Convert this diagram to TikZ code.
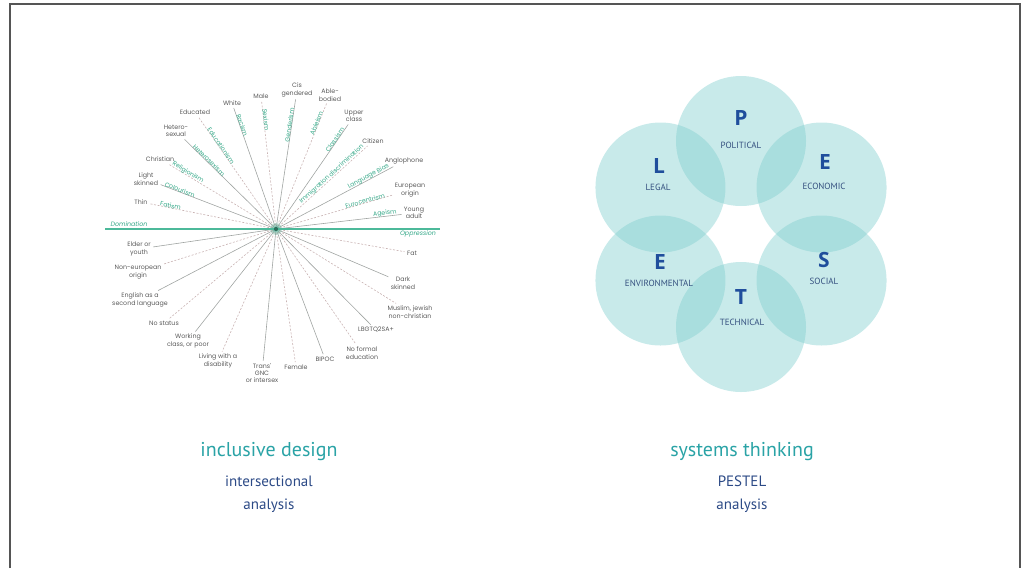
\documentclass[tikz,border=0pt]{standalone}
\usepackage{fontspec}
\usetikzlibrary{calc}
\setmainfont{PT Sans}
\newfontfamily\smallfont{Poppins}
\newfontfamily\letterfont{Open Sans}

\definecolor{labelgray}{HTML}{5A5A5A}
\definecolor{ismgreen}{HTML}{35A888}
\definecolor{spokegray}{HTML}{A0A4A2}
\definecolor{spokepink}{HTML}{C9B3B3}
\definecolor{domgreen}{HTML}{4CB99A}
\definecolor{pestfill}{RGB}{125,205,205}
\definecolor{pestblue}{HTML}{1F4E9C}
\definecolor{pestname}{HTML}{34507F}
\definecolor{titleteal}{HTML}{2AA3A6}
\definecolor{subblue}{HTML}{2C4A86}
\definecolor{framegray}{HTML}{555555}

\begin{document}
\begin{tikzpicture}[x=1pt,y=-1pt,
  lbl/.style={font=\smallfont\fontsize{6.3}{7.4}\selectfont, text=labelgray, align=center, inner sep=1pt, outer sep=1.5pt},
  ism/.style={font=\smallfont\fontsize{6.2}{7}\selectfont, text=ismgreen, sloped, above=-1pt, inner sep=0.5pt},
  spokeA/.style={draw=spokegray, line width=0.6pt},
  spokeB/.style={draw=spokepink, line width=0.6pt, dash pattern=on 2pt off 1.6pt},
  axisline/.style={draw=domgreen, line width=1.8pt},
  axislbl/.style={font=\smallfont\itshape\fontsize{6.3}{7.4}\selectfont, text=ismgreen, inner sep=1pt},
  pcircle/.style={fill=pestfill, fill opacity=0.42},
  pletter/.style={font=\letterfont\bfseries\fontsize{21}{24}\selectfont, text=pestblue, inner sep=0pt},
  pname/.style={font=\fontsize{9}{10}\selectfont, text=pestname, inner sep=0pt},
  title/.style={font=\fontsize{20}{22}\selectfont, text=titleteal},
  sub/.style={font=\fontsize{15}{17}\selectfont, text=subblue, inner sep=1pt}
]
\useasboundingbox (0,0) rectangle (1027,568);

% page frame (open at the bottom)
\draw[framegray, line width=1.3pt] (10,568) -- (10,4) -- (1020,4) -- (1020,568);

% ---------------- intersectional wheel ----------------
\coordinate (c) at (276,229);

% privileged identities (upper half)
\node[lbl] (thin)    at (141,202) {Thin};
\node[lbl] (light)   at (146,179) {Light\\skinned};
\node[lbl] (christ)  at (160,159) {Christian};
\node[lbl] (hetero)  at (176,131) {Hetero-\\sexual};
\node[lbl] (edu)     at (195,112) {Educated};
\node[lbl] (white)   at (232,103) {White};
\node[lbl] (male)    at (261,96)  {Male};
\node[lbl] (cis)     at (297,90)  {Cis\\gendered};
\node[lbl] (able)    at (330,95)  {Able-\\bodied};
\node[lbl] (upper)   at (354,116) {Upper\\class};
\node[lbl] (citizen) at (373,141) {Citizen};
\node[lbl] (anglo)   at (404,161) {Anglophone};
\node[lbl] (euro)    at (410,190) {European\\origin};
\node[lbl] (young)   at (414,213) {Young\\adult};

% marginalised identities (lower half)
\node[lbl] (elder)   at (139,249) {Elder or\\youth};
\node[lbl] (noneuro) at (138,272) {Non-european\\origin};
\node[lbl] (esl)     at (140,300) {English as a\\second language};
\node[lbl] (nostat)  at (164,323) {No status};
\node[lbl] (working) at (188,341) {Working\\class, or poor};
\node[lbl] (disab)   at (218,361) {Living with a\\disability};
\node[lbl] (trans)   at (262,373) {Trans'\\GNC\\or intersex};
\node[lbl] (female)  at (296,367) {Female};
\node[lbl] (bipoc)   at (325,359) {BIPOC};
\node[lbl] (noedu)   at (362,353) {No formal\\education};
\node[lbl] (lgbt)    at (376,330) {LBGTQ2SA+};
\node[lbl] (muslim)  at (410,312) {Muslim, jewish\\non-christian};
\node[lbl] (dark)    at (403,283) {Dark\\skinned};
\node[lbl] (fat)     at (412,253) {Fat};

% spokes with the matching system of oppression
\foreach \n/\s/\t/\p in {
  thin/spokeB/Fatism/.84,
  light/spokeA/Colourism/.84,
  christ/spokeB/Religionism/.83,
  hetero/spokeA/Heterosexism/.75,
  edu/spokeB/Educationism/.73,
  white/spokeA/Racism/.85,
  male/spokeB/Sexism/.85,
  cis/spokeA/Genderism/.8,
  able/spokeB/Ableism/.84,
  upper/spokeA/Classism/.84,
  citizen/spokeB/Immigration discrimination/.63,
  anglo/spokeA/Language Bias/.8,
  euro/spokeB/Eurocentrism/.77,
  young/spokeA/Ageism/.87}
  \draw[\s] (c) -- (\n) node[ism, pos=\p] {\t};

\foreach \n/\s in {elder/spokeA, noneuro/spokeB, esl/spokeA, nostat/spokeB,
  working/spokeA, disab/spokeB, trans/spokeA, female/spokeB, bipoc/spokeA,
  noedu/spokeB, lgbt/spokeA, muslim/spokeB, dark/spokeA, fat/spokeB}
  \draw[\s] (c) -- (\n);

% domination / oppression axis
\coordinate (axL) at (105,229);
\coordinate (axR) at (440,229);
\draw[axisline] (axL) -- (axR);
\node[axislbl] (dom) at (129,224) {Domination};
\node[axislbl] (opp) at (418,234) {Oppression};

% centre glow
\fill[domgreen, opacity=0.25] (c) circle (6);
\fill[domgreen, opacity=0.35] (c) circle (3.8);
\fill[domgreen!60!black] (c) circle (2.1);

% ---------------- PESTEL flower ----------------
\coordinate (hub) at (741,234);
\foreach \a/\nm in {90/cP, 30/cE, -30/cS, -90/cT, -150/cV, 150/cL}
  \coordinate (\nm) at ($(hub)+(\a:93)$);
\foreach \nm in {cP, cE, cS, cT, cV, cL}
  \fill[pcircle] (\nm) circle (65);

\node[pletter] (P)  at (741,118) {P};
\node[pname]   (Pn) at (741,145) {POLITICAL};
\node[pletter] (L)  at (659,166) {L};
\node[pname]   (Ln) at (658,187) {LEGAL};
\node[pletter] (E1) at (825,162) {E};
\node[pname]   (En) at (824,186) {ECONOMIC};
\node[pletter] (E2) at (660,262) {E};
\node[pname]   (Vn) at (659,283) {ENVIRONMENTAL};
\node[pletter] (S)  at (824,260) {S};
\node[pname]   (Sn) at (824,281) {SOCIAL};
\node[pletter] (T)  at (741,297) {T};
\node[pname]   (Tn) at (742,322) {TECHNICAL};

% ---------------- captions ----------------
\node[title] (t1) at (269,452) {inclusive design};
\node[sub]   (s1) at (269,481) {intersectional};
\node[sub]   (a1) at (269,506) {analysis};
\node[title] (t2) at (742,452) {systems thinking};
\node[sub]   (s2) at (742,481) {PESTEL};
\node[sub]   (a2) at (742,506) {analysis};
\end{tikzpicture}
\end{document}
